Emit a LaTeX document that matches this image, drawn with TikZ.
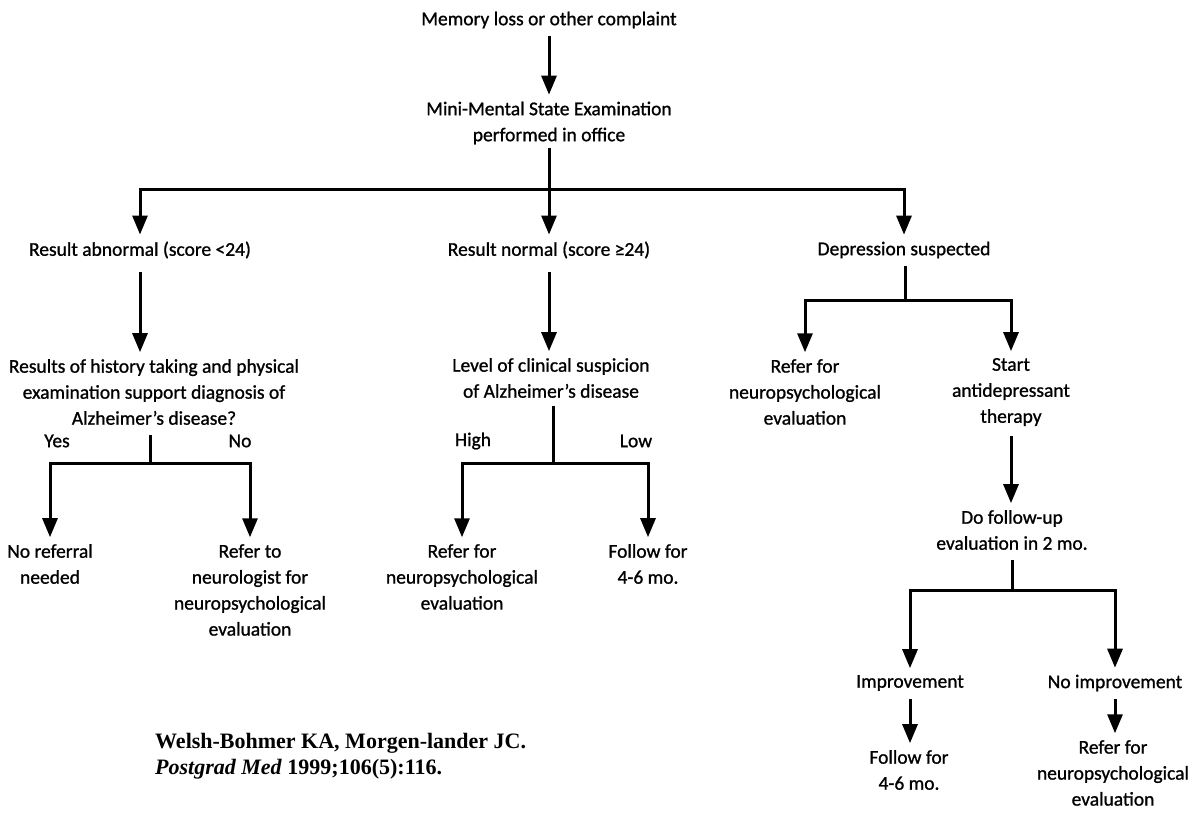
\documentclass[tikz,border=0pt]{standalone}
\usepackage{fontspec}
\setmainfont{Carlito}[FakeBold=1]
\newfontfamily\citefont{Liberation Serif}
\usetikzlibrary{arrows.meta}
\newcommand{\lblfont}{\fontsize{19.5}{26}\selectfont}
\tikzset{
  lab/.style={font=\lblfont, align=center, inner sep=0pt, outer sep=0pt},
  ln/.style={line width=3pt},
  arr/.style={line width=3pt, -{Triangle[length=19pt,width=15pt]}, shorten >=7pt},
}
\begin{document}
\begin{tikzpicture}[x=1pt,y=-1pt]
\fill[white] (0,0) rectangle (1195,812);
\useasboundingbox (0,0) rectangle (1195,812);

% nodes
\node[lab] (mem) at (549,20) {Memory loss or other complaint};
\node[lab] (mmse) at (549,123) {Mini-Mental State Examination\\performed in office};

\node[lab] (abn) at (140,250) {Result abnormal (score <24)};
\node[lab] (norm) at (549,250) {Result normal (score ≥24)};
\node[lab] (dep) at (904,250) {Depression suspected};

\node[lab] (hist) at (154,392) {Results of history taking and physical\\examination support diagnosis of\\Alzheimer's disease?};
\node[lab] (lvl) at (551,378) {Level of clinical suspicion\\of Alzheimer's disease};
\node[lab] (ref1) at (805,392) {Refer for\\neuropsychological\\evaluation};
\node[lab] (start) at (1011,392) {Start\\antidepressant\\therapy};

\node[lab] (yes) at (57,441) {Yes};
\node[lab] (no) at (240,441) {No};
\node[lab] (high) at (473,441) {High};
\node[lab] (low) at (636,441) {Low};

\node[lab] (noref) at (50,564) {No referral\\needed};
\node[lab] (refneu) at (250,590) {Refer to\\neurologist for\\neuropsychological\\evaluation};
\node[lab] (ref2) at (462,577) {Refer for\\neuropsychological\\evaluation};
\node[lab] (fol1) at (648,564) {Follow for\\4-6 mo.};

\node[lab] (dofu) at (1012,530) {Do follow-up\\evaluation in 2 mo.};
\node[lab] (impr) at (910,683) {Improvement};
\node[lab] (noimpr) at (1115,683) {No improvement};
\node[lab] (fol2) at (909,770) {Follow for\\4-6 mo.};
\node[lab] (ref3) at (1113,773) {Refer for\\neuropsychological\\evaluation};

\node[anchor=north west, inner sep=0pt, align=left, font=\citefont\bfseries\fontsize{22}{26}\selectfont] (cite) at (155,733)
  {Welsh-Bohmer KA, Morgen-lander JC.\\\textit{Postgrad Med} 1999;106(5):116.};

% junctions
\coordinate (b1) at (549,189);
\coordinate (s1) at (150,463);
\coordinate (s2) at (553,463);
\coordinate (s3) at (905,300);
\coordinate (s4) at (1012,590);

% connectors
\draw[arr, shorten <=8pt] (mem) -- (mmse);
\draw[ln, shorten <=4pt] (mmse.south) -- (b1);
\draw[arr] (b1) -| (abn.north);
\draw[arr] (b1) -- (norm.north);
\draw[arr] (b1) -| (dep.north);

\draw[arr, shorten <=14pt] (abn.south) -- (hist.north -| abn.south);
\draw[arr, shorten <=14pt] (norm.south) -- (lvl.north -| norm.south);

\draw[ln, shorten <=10pt] (hist.south -| s1) -- (s1);
\draw[arr] (s1) -| (noref.north);
\draw[arr] (s1) -| (refneu.north);

\draw[ln, shorten <=8pt] (lvl.south -| s2) -- (s2);
\draw[arr] (s2) -| (ref2.north);
\draw[arr] (s2) -| (fol1.north);

\draw[ln, shorten <=8pt] (dep.south -| s3) -- (s3);
\draw[arr] (s3) -| (ref1.north);
\draw[arr] (s3) -| (start.north);

\draw[arr, shorten <=10pt] (start) -- (dofu.north -| start);
\draw[ln, shorten <=10pt] (dofu.south -| s4) -- (s4);
\draw[arr] (s4) -| (impr.north);
\draw[arr] (s4) -| (noimpr.north);

\draw[arr, shorten <=8pt] (impr) -- (fol2.north -| impr);
\draw[arr, shorten <=8pt] (noimpr) -- (ref3.north -| noimpr);
\end{tikzpicture}
\end{document}
